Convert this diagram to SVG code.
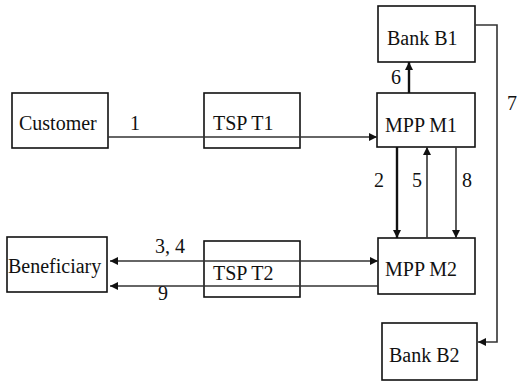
<svg xmlns="http://www.w3.org/2000/svg" width="517" height="383" viewBox="0 0 517 383">
<style>
.box{fill:#fff;stroke:#111;stroke-width:1.6}
.t{font-size:20px;fill:#111}
.c{fill:none;stroke:#333;stroke-width:1.6}
.thick{stroke:#111;stroke-width:2.4}
</style>
<defs>
<marker id="ah" viewBox="0 0 10 10" refX="10" refY="5" markerWidth="10" markerHeight="8" markerUnits="userSpaceOnUse" orient="auto-start-reverse">
<path d="M0,0 L10,5 L0,10 Z" fill="#111"/>
</marker>
</defs>
<rect width="517" height="383" fill="#fff"/>
<g font-family="Liberation Serif, Times New Roman, DejaVu Serif, serif">
<g id="customer"><rect class="box" x="12" y="93" width="96" height="55"/><text class="t" x="19" y="130">Customer</text></g>
<g id="tspt1"><rect class="box" x="204" y="93" width="96" height="55"/><text class="t" x="213" y="130">TSP T1</text></g>
<g id="bankb1"><rect class="box" x="378" y="6" width="97" height="56" stroke-width="2"/><text class="t" x="387" y="45">Bank B1</text></g>
<g id="mppm1"><rect class="box" x="377" y="93" width="98" height="54"/><text class="t" x="385" y="132">MPP M1</text></g>
<g id="mppm2"><rect class="box" x="378" y="238" width="97" height="56"/><text class="t" x="385" y="276">MPP M2</text></g>
<g id="bankb2"><rect class="box" x="382" y="323" width="95" height="57"/><text class="t" x="389" y="362">Bank B2</text></g>
<g id="beneficiary"><rect class="box" x="7" y="237" width="100" height="55"/><text class="t" x="8" y="273">Beneficiary</text></g>
<g id="tspt2"><rect class="box" x="204" y="241" width="96" height="56" fill="none"/><text class="t" x="213" y="280">TSP T2</text></g>
<g id="connectors">
<line class="c" x1="108" y1="137" x2="377" y2="137" marker-end="url(#ah)"/>
<line class="c thick" x1="409" y1="93" x2="409" y2="62" marker-end="url(#ah)"/>
<polyline class="c" points="475,25 497,25 497,342 478,342" marker-end="url(#ah)"/>
<line class="c thick" x1="397" y1="147" x2="397" y2="238" marker-end="url(#ah)"/>
<line class="c" x1="427" y1="238" x2="427" y2="147" marker-end="url(#ah)"/>
<line class="c" x1="456" y1="147" x2="456" y2="238" marker-end="url(#ah)"/>
<line class="c" x1="110" y1="261" x2="378" y2="261" marker-start="url(#ah)" marker-end="url(#ah)"/>
<line class="c" x1="378" y1="286" x2="110" y2="286" marker-end="url(#ah)"/>
<text class="t" x="130" y="130">1</text>
<text class="t" x="391" y="84">6</text>
<text class="t" x="507" y="110">7</text>
<text class="t" x="374" y="187">2</text>
<text class="t" x="412" y="187">5</text>
<text class="t" x="462" y="187">8</text>
<text class="t" x="155" y="253">3, 4</text>
<text class="t" x="158" y="300">9</text>
</g>
</g>
</svg>
